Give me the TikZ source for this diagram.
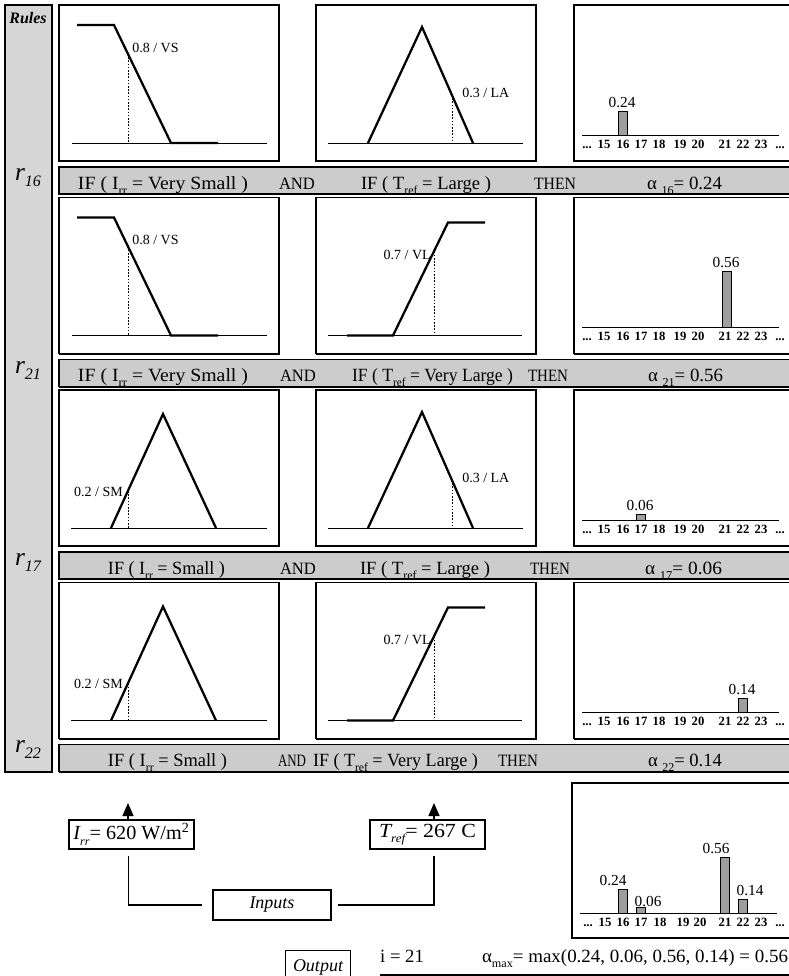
\documentclass[tikz,border=0pt]{standalone}
\usepackage{fontspec}
\setmainfont{Liberation Serif}
\usetikzlibrary{arrows.meta}
\definecolor{barfill}{gray}{0.80}
\definecolor{colfill}{gray}{0.84}
\definecolor{histfill}{gray}{0.62}
\newcommand{\fitw}[2]{\resizebox{#1}{\height}{#2}}
\newcommand{\fs}[1]{\fontsize{#1}{#1}\selectfont}
\newcommand{\lsub}[1]{\raisebox{-0.6ex}{\fs{9}#1}}
% box with a slightly heavier bottom/right edge
\newcommand{\pbox}[5]{% #1 style, #2 x1, #3 y1, #4 x2, #5 y2
  \draw[#1] (#2,#3) rectangle (#4,#5);
  \draw[shadowln] (#2+1,#5+0.8) -- (#4+0.8,#5+0.8) -- (#4+0.8,#3+1);
}
% membership functions, local coordinates relative to panel top-left
\newcommand{\mfVS}[3]{%
 \begin{scope}[shift={(#1,#2)}]
  \draw[baseln] (13,138) -- (208,138);
  \draw[mfline] (18,20) -- (55,20) -- (112,138) -- (159,138);
  \draw[dashln] (69,49) -- (69,138);
  \node[mflabel,anchor=base west] (#3) at (73,47) {0.8 / VS};
 \end{scope}}
\newcommand{\mfSM}[3]{%
 \begin{scope}[shift={(#1,#2)}]
  \draw[baseln] (12,138) -- (208,138);
  \draw[mfline] (52,138) -- (104,24) -- (157,138);
  \draw[dashln] (69,101) -- (69,138);
  \node[mflabel,anchor=base east] (#3) at (64,106) {0.2 / SM};
 \end{scope}}
\newcommand{\mfLA}[3]{%
 \begin{scope}[shift={(#1,#2)}]
  \draw[baseln] (12,138) -- (207,138);
  \draw[mfline] (52,138) -- (106,22) -- (157,138);
  \draw[dashln] (136,90) -- (136,138);
  \node[mflabel,anchor=base west] (#3) at (146,92) {0.3 / LA};
 \end{scope}}
\newcommand{\mfVL}[3]{%
 \begin{scope}[shift={(#1,#2)}]
  \draw[baseln] (12,138) -- (206,138);
  \draw[mfline] (31,138) -- (77,138) -- (132,25) -- (169,25);
  \draw[dashln] (118,54) -- (118,138);
  \node[mflabel,anchor=base east] (#3) at (115,62) {0.7 / VL};
 \end{scope}}
\newcommand{\histaxis}[3]{% #1 top, #2 name prefix, #3 baseline left
  \draw[baseln] (#3,#1+130) -- (779,#1+130);
  \foreach \lab/\xx in {{...}/587,15/604,16/623,17/641,18/659,19/680,20/698,21/725,22/743,23/761,{...}/780}
    \node[ticklab] (#2t\xx) at (\xx,#1+143) {\lab};
}
\newcommand{\histbar}[5]{% #1 top y0, #2 x centre, #3 value, #4 label text, #5 name
  \draw[histbar] (#2-4.5,#1+130) rectangle (#2+4.5,#1+130-100*#3);
  \node[vallab] (#5) at (#2-1,#1+126-100*#3) {#4};
}
\begin{document}
\begin{tikzpicture}[x=0.75pt,y=-0.75pt,
  panel/.style={draw=black,line width=0.8pt,fill=white},
  rulebar/.style={draw=black,line width=0.8pt,fill=barfill},
  shadowln/.style={line width=1pt,line cap=rect},
  mfline/.style={line width=1.7pt,line join=miter},
  baseln/.style={line width=0.7pt},
  dashln/.style={line width=0.5pt,dash pattern=on 1.2pt off 1.2pt},
  mflabel/.style={inner sep=0pt,font=\fs{10.5}},
  ticklab/.style={inner sep=0pt,anchor=base,font=\fs{9.5}\bfseries},
  vallab/.style={inner sep=0pt,anchor=base,font=\fs{11.5}},
  histbar/.style={draw=black,line width=0.6pt,fill=histfill},
  bartext/.style={inner sep=0pt,anchor=base,font=\fs{14}},
  smalltext/.style={inner sep=0pt,anchor=base,font=\fs{13}},
  rlab/.style={inner sep=0pt,anchor=base},
  iobox/.style={draw=black,line width=0.9pt,fill=white,inner sep=0pt},
  conn/.style={line width=0.9pt},
  arr/.style={line width=0.9pt,-{Triangle[length=9.75pt,width=8.25pt]}},
]
\useasboundingbox (0,0) rectangle (789,976);
\fill[white] (0,0) rectangle (789,976);

% left column
\pbox{rulebar,fill=colfill}{5}{5}{52}{772}
\node[inner sep=0pt,font=\fs{12}\bfseries\itshape] (rules) at (28,18) {Rules};
\node[rlab] (r16) at (28,180) {{\fs{19}\itshape r}\raisebox{-1.1ex}{\fs{12}\itshape 16}};
\node[rlab] (r21) at (28,373) {{\fs{19}\itshape r}\raisebox{-1.1ex}{\fs{12}\itshape 21}};
\node[rlab] (r17) at (28,565) {{\fs{19}\itshape r}\raisebox{-1.1ex}{\fs{12}\itshape 17}};
\node[rlab] (r22) at (28,752) {{\fs{19}\itshape r}\raisebox{-1.1ex}{\fs{12}\itshape 22}};

% ---------- row 1 (T=5)
\pbox{panel}{59}{5}{279}{161}
\pbox{panel}{316}{5}{536}{161}
\pbox{panel}{574}{5}{795}{161}
\mfVS{59}{5}{lab1a}
\mfLA{316}{5}{lab1b}
\histaxis{5}{h1}{582}
\histbar{5}{623}{0.24}{0.24}{v1}
\pbox{rulebar}{59}{167}{795}{194}
\node[bartext] (b1a) at (163,189) {\fitw{127.5pt}{IF ( I\lsub{rr} = Very Small )}};
\node[smalltext] (b1b) at (297,189) {\fitw{27pt}{AND}};
\node[bartext] (b1c) at (426,189) {\fitw{97.5pt}{IF ( T\lsub{ref} = Large )}};
\node[smalltext] (b1d) at (555,189) {\fitw{31.5pt}{THEN}};
\node[bartext] (b1e) at (684.5,189) {\fitw{56.25pt}{α \lsub{16}= 0.24}};

% ---------- row 2 (T=197.5)
\pbox{panel}{59}{197.5}{279}{353.5}
\pbox{panel}{316}{197.5}{536}{353.5}
\pbox{panel}{574}{197.5}{795}{353.5}
\mfVS{59}{197.5}{lab2a}
\mfVL{316}{197.5}{lab2b}
\histaxis{197.5}{h2}{582}
\histbar{197.5}{727}{0.56}{0.56}{v2}
\pbox{rulebar}{59}{359.5}{795}{386.5}
\node[bartext] (b2a) at (163,381.5) {\fitw{127.5pt}{IF ( I\lsub{rr} = Very Small )}};
\node[smalltext] (b2b) at (298,381.5) {\fitw{27pt}{AND}};
\node[bartext] (b2c) at (432.5,381.5) {\fitw{120.75pt}{IF ( T\lsub{ref} = Very Large )}};
\node[smalltext] (b2d) at (548,381.5) {\fitw{30pt}{THEN}};
\node[bartext] (b2e) at (685.5,381.5) {\fitw{56.25pt}{α \lsub{21}= 0.56}};

% ---------- row 3 (T=390)
\pbox{panel}{59}{390}{279}{546}
\pbox{panel}{316}{390}{536}{546}
\pbox{panel}{574}{390}{795}{546}
\mfSM{59}{390}{lab3a}
\mfLA{316}{390}{lab3b}
\histaxis{390}{h3}{582}
\histbar{390}{641}{0.06}{0.06}{v3}
\pbox{rulebar}{59}{552}{795}{579}
\node[bartext] (b3a) at (166.5,574) {\fitw{87.75pt}{IF ( I\lsub{rr} = Small )}};
\node[smalltext] (b3b) at (298,574) {\fitw{27pt}{AND}};
\node[bartext] (b3c) at (425,574) {\fitw{97.5pt}{IF ( T\lsub{ref} = Large )}};
\node[smalltext] (b3d) at (550,574) {\fitw{30pt}{THEN}};
\node[bartext] (b3e) at (683.5,574) {\fitw{57.75pt}{α \lsub{17}= 0.06}};

% ---------- row 4 (T=582.5)
\pbox{panel}{59}{582.5}{279}{738.5}
\pbox{panel}{316}{582.5}{536}{738.5}
\pbox{panel}{574}{582.5}{795}{738.5}
\mfSM{59}{582.5}{lab4a}
\mfVL{316}{582.5}{lab4b}
\histaxis{582.5}{h4}{582}
\histbar{582.5}{743}{0.14}{0.14}{v4}
\pbox{rulebar}{59}{744.5}{795}{771.5}
\node[bartext] (b4a) at (167.5,766.5) {\fitw{89.25pt}{IF ( I\lsub{rr} = Small )}};
\node[smalltext] (b4b) at (292,766.5) {\fitw{21pt}{AND}};
\node[bartext] (b4c) at (395.5,766.5) {\fitw{123.75pt}{IF ( T\lsub{ref} = Very Large )}};
\node[smalltext] (b4d) at (518,766.5) {\fitw{30pt}{THEN}};
\node[bartext] (b4e) at (685,766.5) {\fitw{55.5pt}{α \lsub{22}= 0.14}};

% ---------- inputs
\node[iobox,minimum width=93.75pt,minimum height=21.75pt,font=\fs{15}] (irr) at (131.5,834.5)
  {\fitw{87pt}{\itshape I\lsub{rr}\upshape= 620 W/m\textsuperscript{2}}};
\node[iobox,minimum width=86.25pt,minimum height=21.75pt,font=\fs{15}] (tref) at (427.5,834.5)
  {\fitw{72.75pt}{\itshape T\lsub{ref}\upshape= 267 C}};
\node[iobox,minimum width=88.5pt,minimum height=22.5pt,font=\fs{13.5}\itshape] (inputs) at (272,905) {Inputs};
\coordinate (irrtip) at (128,803);
\coordinate (treftip) at (434,803);
\draw[arr] (irrtip |- irr.north) -- (irrtip);
\draw[arr] (treftip |- tref.north) -- (treftip);
\draw[conn] ([xshift=-7.5pt]inputs.west) -| ([xshift=-2.25pt,yshift=-4.5pt]irr.south);
\draw[conn] ([xshift=4.5pt]inputs.east) -| ([xshift=4.9pt,yshift=-4.5pt]tref.south);

% ---------- output histogram
\pbox{panel}{572}{783}{795}{938}
\draw[baseln] (580,913) -- (777,913);
\foreach \lab/\xx in {{...}/588,15/605,16/623,17/641,18/660,19/683,20/700,21/725,22/743,23/761,{...}/780}
  \node[ticklab] (h5t\xx) at (\xx,926) {\lab};
\draw[histbar] (618.5,913) rectangle (627.5,889);
\draw[histbar] (636.5,913) rectangle (645.5,907);
\draw[histbar] (720.5,913) rectangle (729.5,857);
\draw[histbar] (738.5,913) rectangle (747.5,899);
\node[vallab] (o1) at (613,885) {0.24};
\node[vallab] (o2) at (648,906) {0.06};
\node[vallab] (o3) at (716,853) {0.56};
\node[vallab] (o4) at (750,895) {0.14};

% ---------- output line
\node[iobox,minimum width=48.75pt,minimum height=26pt,font=\fs{13.5}\itshape,anchor=north] (output) at (318,950) {Output};
\node[bartext] (iout) at (402,962) {i = 21};
\node[bartext] (amax) at (635,962) {\fitw{229.5pt}{α\lsub{max}= max(0.24, 0.06, 0.56, 0.14) = 0.56}};
\draw[line width=1.5pt] (380,975) -- (795,975);
\end{tikzpicture}
\end{document}
